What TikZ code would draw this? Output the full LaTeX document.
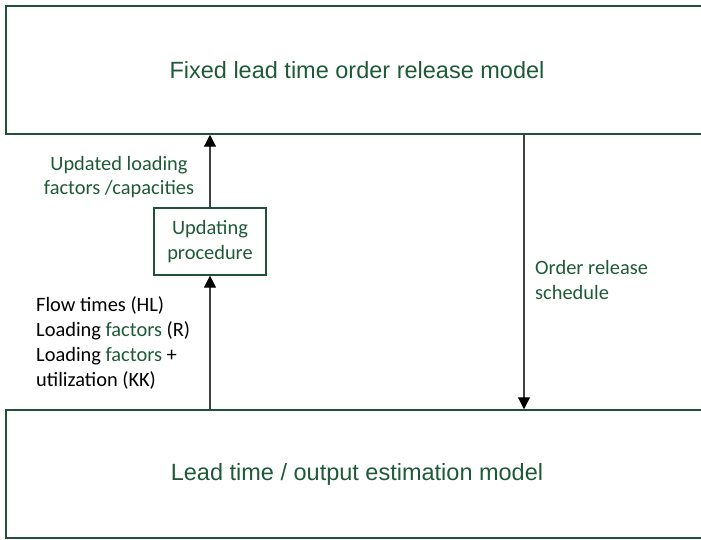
\documentclass[tikz,border=0pt]{standalone}
\usepackage{xcolor}
\usepackage{fontspec}
\setmainfont{Carlito}
\newfontfamily\modelfont{Liberation Sans}
\usetikzlibrary{arrows.meta}

\definecolor{boxgreen}{RGB}{31,82,56}
\definecolor{textgreen}{RGB}{30,90,55}
\definecolor{linegray}{RGB}{64,64,64}

\begin{document}
\begin{tikzpicture}[x=1pt,y=-1pt,
		model/.style={draw=boxgreen,line width=1.5pt,minimum width=702pt,minimum height=128pt,
			inner sep=0pt,text=textgreen,font=\modelfont\fontsize{23.5}{28}\selectfont},
		procbox/.style={draw=boxgreen,line width=1.2pt,minimum width=112pt,minimum height=67pt,
			inner sep=0pt,align=center,text=textgreen,font=\fontsize{20.4}{25}\selectfont},
		flowlabel/.style={inner sep=0pt,font=\fontsize{20.4}{25}\selectfont},
		flow/.style={draw=linegray,line width=1.2pt,-{Triangle[width=12pt,length=12pt,color=black]}}]
	\clip (0,0) rectangle (701,540);
		\node[model] (release) at (357,70) {Fixed lead time order release model};
		\node[model] (estimation) at (357,474) {Lead time / output estimation model};
		\node[procbox] (updating) at (210,241.5) {Updating\\procedure};
		\coordinate (relx) at (524,0);
		% labels
		\node[flowlabel,align=center,text=textgreen,font=\fontsize{20.4}{23.5}\selectfont] (updlabel) at (119,177)
			{Updated loading\\factors /capacities};
		\node[flowlabel,align=left,anchor=west] (flowtimes) at (36,343)
			{Flow times (HL)\\Loading \textcolor{textgreen}{factors} (R)\\Loading \textcolor{textgreen}{factors} +\\utilization (KK)};
		\node[flowlabel,align=left,anchor=west,text=textgreen] (schedule) at (535,280)
			{Order release\\schedule};
		% connectors
		\draw[flow] (estimation.north -| updating) -- (updating.south);
		\draw[flow] (updating.north) -- (release.south -| updating);
		\draw[flow] (release.south -| relx) -- (estimation.north -| relx);
	\end{tikzpicture}
\end{document}
